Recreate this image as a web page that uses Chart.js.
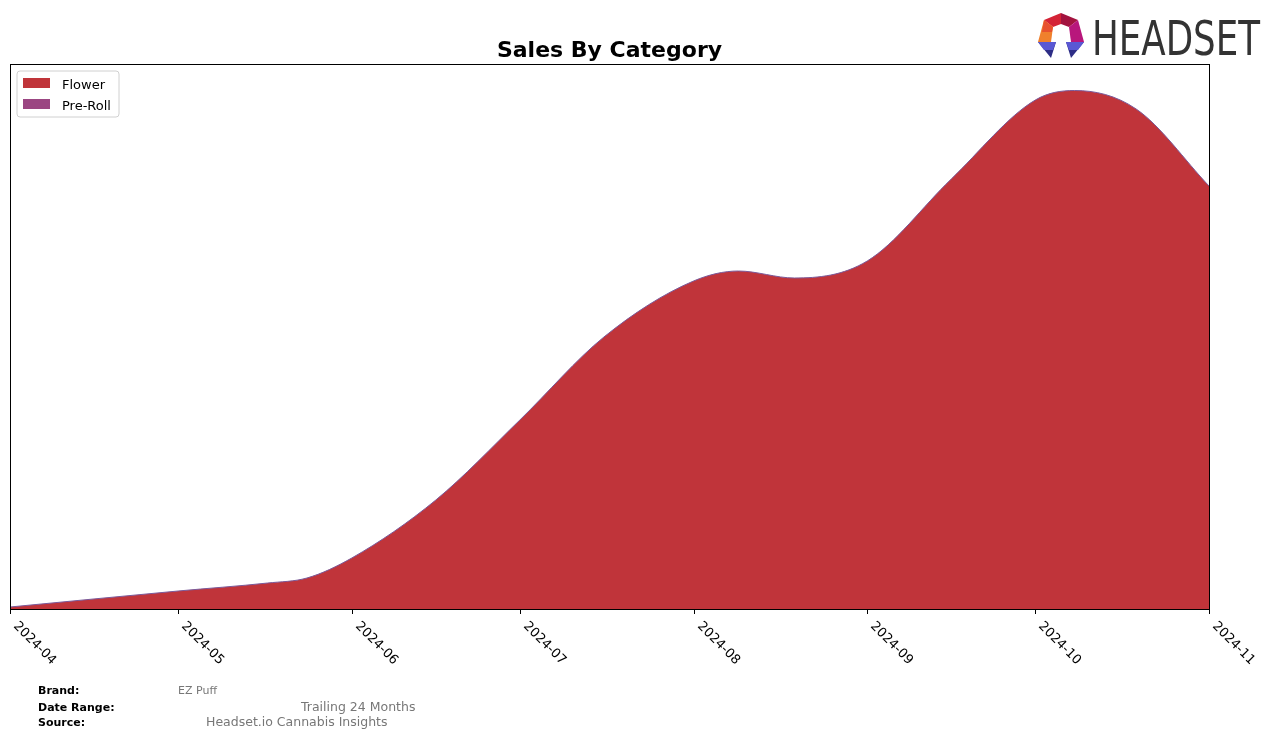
<!DOCTYPE html>
<html>
<head>
<meta charset="utf-8">
<script src="https://cdn.jsdelivr.net/npm/chart.js@4/dist/chart.umd.min.js"></script>
<style>
  html, body { margin: 0; padding: 0; background: #ffffff; }
  #wrap { position: relative; width: 1276px; height: 738px; }
  canvas { display: block; }
</style>
</head>
<body>
<div id="wrap"><canvas id="c" width="1276" height="738"></canvas></div>
<script>
// ---- data ----
const sampleDates = ['2024-04-01','2024-05-01','2024-05-17','2024-05-24','2024-06-01','2024-06-16','2024-07-01','2024-07-16','2024-08-01','2024-08-09','2024-08-19','2024-09-01','2024-09-16','2024-10-01','2024-10-08','2024-10-19','2024-11-01'];
const flowerSales = [2, 18, 26, 31, 51, 109, 189, 272, 328, 338, 331, 348, 430, 509, 518.5, 500, 423];
const prerollSales = [0, 0, 0, 0, 0, 0, 0, 0, 0, 0, 0, 0, 0, 0, 0, 0, 0];
const tickDates = ['2024-04-01','2024-05-01','2024-06-01','2024-07-01','2024-08-01','2024-09-01','2024-10-01','2024-11-01'];
const tickLabels = ['2024-04','2024-05','2024-06','2024-07','2024-08','2024-09','2024-10','2024-11'];
const seriesNames = ['Flower', 'Pre-Roll'];
const seriesColors = ['#c0343a', '#9b4682'];
const chartTitle = 'Sales By Category';
const footerRows = [['Brand:', 'EZ Puff'], ['Date Range:', 'Trailing 24 Months'], ['Source:', 'Headset.io Cannabis Insights']];

// ---- helpers ----
const origin = Date.UTC(2024, 3, 1);
function dayOf(s) { const p = s.split('-').map(Number); return (Date.UTC(p[0], p[1]-1, p[2]) - origin) / 86400000; }
const xs = sampleDates.map(dayOf);
const tickXs = tickDates.map(dayOf);
const FONT = '"DejaVu Sans", "Liberation Sans", sans-serif';

const decor = {
  id: 'decor',
  afterDraw(chart) {
    const ctx = chart.ctx;
    const a = chart.chartArea;
    const xScale = chart.scales.x;
    ctx.save();
    // frame
    ctx.strokeStyle = '#000';
    ctx.lineWidth = 1;
    ctx.strokeRect(Math.round(a.left) + 0.5, Math.round(a.top) + 0.5, Math.round(a.right - a.left), Math.round(a.bottom - a.top));
    // ticks + rotated labels
    ctx.fillStyle = '#000';
    ctx.font = '13px ' + FONT;
    ctx.textAlign = 'left';
    ctx.textBaseline = 'top';
    tickXs.forEach((d, i) => {
      const px = Math.round(xScale.getPixelForValue(d)) + 0.5;
      ctx.beginPath();
      ctx.moveTo(px, a.bottom);
      ctx.lineTo(px, a.bottom + 5);
      ctx.stroke();
      ctx.save();
      ctx.translate(px + 8, a.bottom + 12);
      ctx.rotate(Math.PI / 4);
      ctx.fillText(tickLabels[i], 0, -2);
      ctx.restore();
    });
    // title
    ctx.font = 'bold 22px ' + FONT;
    ctx.textAlign = 'center';
    ctx.textBaseline = 'alphabetic';
    ctx.fillText(chartTitle, (a.left + a.right) / 2, 57);
    // legend
    const lx = 17, ly = 71, lw = 102, lh = 46, r = 3;
    ctx.beginPath();
    ctx.moveTo(lx + r, ly);
    ctx.arcTo(lx + lw, ly, lx + lw, ly + lh, r);
    ctx.arcTo(lx + lw, ly + lh, lx, ly + lh, r);
    ctx.arcTo(lx, ly + lh, lx, ly, r);
    ctx.arcTo(lx, ly, lx + lw, ly, r);
    ctx.closePath();
    ctx.fillStyle = 'rgba(255,255,255,0.8)';
    ctx.fill();
    ctx.strokeStyle = '#d0d0d0';
    ctx.stroke();
    ctx.font = '13px ' + FONT;
    ctx.textAlign = 'left';
    ctx.textBaseline = 'middle';
    seriesNames.forEach((n, i) => {
      const y = 78 + i * 21;
      ctx.fillStyle = seriesColors[i];
      ctx.fillRect(23, y, 27, 10);
      ctx.fillStyle = '#000';
      ctx.fillText(n, 62, y + 7.5);
    });
    // footer
    const rowY = [694, 711, 726];
    const valX = [178, 301, 206];
    footerRows.forEach((row, i) => {
      ctx.textBaseline = 'alphabetic';
      ctx.fillStyle = '#000';
      ctx.font = 'bold 11px ' + FONT;
      ctx.fillText(row[0], 38, rowY[i]);
      ctx.fillStyle = '#777';
      ctx.font = (i === 0 ? '11px ' : '12.5px ') + FONT;
      ctx.fillText(row[1], valX[i], rowY[i]);
    });
    // logo icon
    const P = (pts, col) => { ctx.beginPath(); pts.forEach((p, k) => k ? ctx.lineTo(p[0], p[1]) : ctx.moveTo(p[0], p[1])); ctx.closePath(); ctx.fillStyle = col; ctx.fill(); };
    const O0 = [1061, 13], O1 = [1078, 20], O2 = [1084, 42], O5 = [1044, 20], O4 = [1038, 42];
    const I0 = [1061, 24], I1 = [1069, 27], I2 = [1071, 42], I5 = [1053, 27], I4 = [1051, 42];
    P([O0, I0, I5, O5], '#d42336');
    P([O0, O1, I1, I0], '#a3133f');
    P([O1, O2, I2, I1], '#b8177c');
    P([O5, I5, I4, O4], '#f0802c');
    P([O5, I5, [1052, 32], [1042, 32]], '#e8512e');
    P([O4, [1056, 42], [1051, 58]], '#2d2d86');
    P([O4, [1056, 42], [1053, 50], [1044, 50]], '#5a58d4');
    P([[1066, 42], O2, [1071, 58]], '#2d2d86');
    P([[1066, 42], O2, [1078, 50], [1069, 50]], '#5a58d4');
    // logo text
    ctx.fillStyle = '#333333';
    ctx.font = '48px "Liberation Sans Narrow", "DejaVu Sans Condensed", "Liberation Sans", sans-serif';
    ctx.textAlign = 'left';
    ctx.textBaseline = 'alphabetic';
    const w = ctx.measureText('HEADSET').width;
    ctx.save();
    ctx.translate(1092, 55);
    ctx.scale(168 / w, 1);
    ctx.fillText('HEADSET', 0, 0);
    ctx.restore();
    ctx.restore();
  }
};

new Chart(document.getElementById('c'), {
  type: 'line',
  data: {
    datasets: [
      {
        label: seriesNames[0],
        data: xs.map((x, i) => ({ x: x, y: flowerSales[i] })),
        backgroundColor: seriesColors[0],
        borderColor: seriesColors[0],
        borderWidth: 0,
        pointRadius: 0,
        fill: 'origin',
        cubicInterpolationMode: 'monotone'
      },
      {
        label: seriesNames[1],
        data: xs.map((x, i) => ({ x: x, y: prerollSales[i] })),
        backgroundColor: seriesColors[1],
        borderColor: '#7a5a9a',
        borderWidth: 1,
        pointRadius: 0,
        fill: '-1',
        cubicInterpolationMode: 'monotone'
      }
    ]
  },
  options: {
    responsive: false,
    animation: false,
    devicePixelRatio: 1,
    layout: { padding: { left: 10, top: 64, right: 67, bottom: 129 } },
    scales: {
      x: { type: 'linear', min: 0, max: dayOf(tickDates[tickDates.length - 1]), display: false },
      y: { stacked: true, min: 0, max: 545, display: false }
    },
    plugins: {
      legend: { display: false },
      title: { display: false },
      tooltip: { enabled: false },
      filler: { drawTime: 'beforeDatasetsDraw' }
    }
  },
  plugins: [decor]
});
</script>
</body>
</html>
